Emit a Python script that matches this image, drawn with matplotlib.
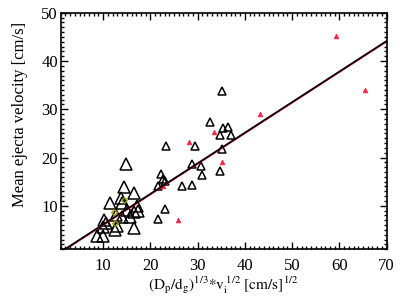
import numpy as np
import matplotlib
matplotlib.use("Agg")
import matplotlib.pyplot as plt
from matplotlib.ticker import MultipleLocator

plt.rcParams["font.family"] = ["Liberation Serif", "DejaVu Serif"]
plt.rcParams["mathtext.fontset"] = "stix"

# ----------------------------------------------------------------------
# data
# ----------------------------------------------------------------------
# black open triangles, large (small scaling parameter)
big_x = [14.9, 14.4, 16.5, 11.4, 13.8, 14.0, 17.2, 15.0, 16.6, 12.8,
         14.0, 15.7, 10.2, 10.6, 10.0, 12.9, 12.4, 16.5, 8.8, 9.9, 17.3]
big_y = [18.6, 13.9, 12.6, 10.6, 11.6, 10.6, 10.0, 9.2, 8.7, 8.1,
         7.7, 7.7, 7.0, 6.4, 5.5, 5.8, 5.0, 5.3, 3.7, 3.7, 9.0]

# black open triangles, medium
med_x = [35.1, 32.6, 35.3, 36.5, 34.7, 37.0, 35.1, 29.4, 23.2, 28.8,
         30.7, 31.0, 34.8, 28.9, 26.6, 22.3, 22.7, 23.0, 21.5, 23.0, 21.5]
med_y = [33.7, 27.4, 26.2, 26.3, 24.6, 24.6, 21.7, 22.4, 22.3, 18.6,
         18.2, 16.4, 17.2, 14.4, 14.0, 16.5, 15.5, 15.2, 14.2, 9.4, 7.2]

# red filled triangles
red_x = [59.3, 65.4, 43.3, 33.5, 28.2, 35.1, 22.7, 25.8]
red_y = [45.2, 34.1, 29.1, 25.2, 23.2, 19.1, 14.1, 7.0]

# olive diamonds
oli_x = [12.2, 12.5, 14.4]
oli_y = [8.7, 6.5, 11.1]

# linear fit
fit_slope = 0.634
fit_icpt = -0.2

fig = plt.figure(figsize=(4.07, 3.05), dpi=100)
ax = fig.add_axes([0.149, 0.183, 0.801, 0.775])

ax.plot(big_x, big_y, ls="none", marker="^", ms=8, mfc="none", mec="black", mew=1.1)
ax.plot(med_x, med_y, ls="none", marker="^", ms=5.6, mfc="none", mec="black", mew=1.1)
ax.plot(oli_x, oli_y, ls="none", marker="D", ms=3, mfc="none", mec="#a0a000", mew=0.9)
ax.plot(red_x, red_y, ls="none", marker="^", ms=3.4, mfc="#ff2040", mec="#ff2040", mew=0.5)

xf = np.array([1.0, 70.0])
ax.plot(xf, fit_slope * xf + fit_icpt - 0.15, color="#e00020", lw=1.0)
ax.plot(xf, fit_slope * xf + fit_icpt, color="black", lw=1.2)

ax.set_xlim(1, 70)
ax.set_ylim(1, 50)
ax.xaxis.set_major_locator(MultipleLocator(10))
ax.xaxis.set_minor_locator(MultipleLocator(1))
ax.yaxis.set_major_locator(MultipleLocator(10))
ax.yaxis.set_minor_locator(MultipleLocator(1))
ax.tick_params(which="both", direction="in", top=True, right=True, labelsize=12, width=1)
ax.tick_params(which="major", length=5)
ax.tick_params(which="minor", length=2.5)
ax.tick_params(axis="x", which="major", pad=6)
ax.tick_params(axis="y", which="major", pad=2)
for s in ax.spines.values():
    s.set_linewidth(1.2)

ax.set_ylabel("Mean ejecta velocity [cm/s]", fontsize=12)
ax.yaxis.set_label_coords(-0.10, 0.57)
ax.set_xlabel(r"$\mathrm{(D_{p}/d_{g})^{1/3}{*}v_{i}^{\;1/2}\ [cm/s]^{1/2}}$", fontsize=11, labelpad=1)

fig.savefig("out.png", dpi=100)
